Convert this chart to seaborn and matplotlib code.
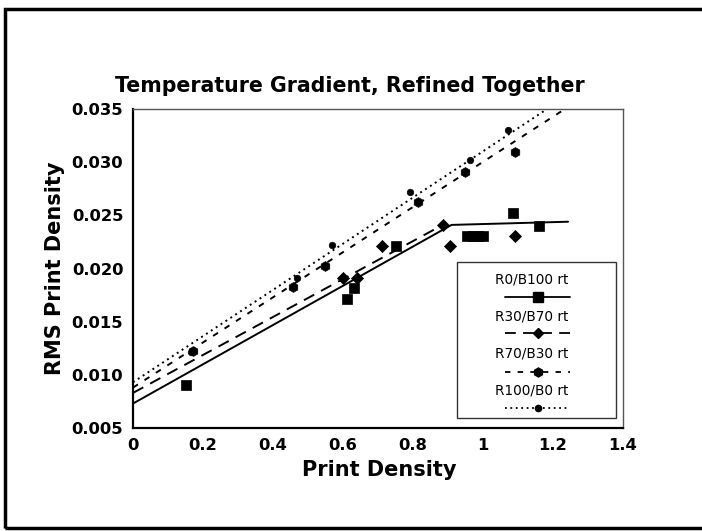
import matplotlib
matplotlib.use("Agg")
import matplotlib.pyplot as plt
import seaborn as sns
import pandas as pd
from matplotlib.lines import Line2D
from matplotlib.patches import Rectangle
from matplotlib.ticker import FormatStrFormatter, FuncFormatter

# ---------------- data ----------------
series_names = ["R0/B100 rt", "R30/B70 rt", "R70/B30 rt", "R100/B0 rt"]

r0_x = [0.15, 0.61, 0.63, 0.75, 0.955, 0.97, 0.985, 1.0, 1.085, 1.16]
r0_y = [0.0090, 0.0171, 0.0182, 0.0221, 0.0231, 0.0231, 0.0231, 0.0231, 0.0252, 0.0240]

r30_x = [0.60, 0.64, 0.71, 0.885, 0.905, 1.09]
r30_y = [0.0191, 0.0191, 0.0221, 0.0241, 0.0221, 0.0231]

r70_x = [0.17, 0.458, 0.549, 0.815, 0.949, 1.09]
r70_y = [0.0122, 0.0183, 0.0202, 0.0263, 0.0291, 0.0310]

r100_x = [0.165, 0.468, 0.568, 0.791, 0.963, 1.07]
r100_y = [0.0121, 0.0191, 0.0222, 0.0272, 0.0302, 0.0330]

# fitted (refined) lines
r0_fit_x = [0.0, 0.91, 1.243]
r0_fit_y = [0.0073, 0.0241, 0.0244]
r30_fit_x = [0.0, 0.885]
r30_fit_y = [0.0083, 0.0241]
r70_fit_x = [0.0, 1.234]
r70_fit_y = [0.0088, 0.0350]
r100_fit_x = [0.0, 1.183]
r100_fit_y = [0.0093, 0.0350]

x_ticks = [0, 0.2, 0.4, 0.6, 0.8, 1.0, 1.2, 1.4]
y_ticks = [0.005, 0.010, 0.015, 0.020, 0.025, 0.030, 0.035]

# ---------------- styling ----------------
sns.set_theme(style="white")
plt.rcParams["font.family"] = ["DejaVu Sans"]
plt.rcParams["text.color"] = "black"
plt.rcParams["axes.labelcolor"] = "black"
plt.rcParams["xtick.color"] = "black"
plt.rcParams["ytick.color"] = "black"

markers = {"R0/B100 rt": "s", "R30/B70 rt": "D", "R70/B30 rt": "h", "R100/B0 rt": "o"}
msizes = {"R0/B100 rt": 60, "R30/B70 rt": 38, "R70/B30 rt": 50, "R100/B0 rt": 22}
lstyles = {"R0/B100 rt": "-", "R30/B70 rt": (0, (6, 4)),
           "R70/B30 rt": (0, (3, 4)), "R100/B0 rt": (0, (1, 2))}

pts = pd.concat([
    pd.DataFrame({"x": r0_x, "y": r0_y, "s": series_names[0]}),
    pd.DataFrame({"x": r30_x, "y": r30_y, "s": series_names[1]}),
    pd.DataFrame({"x": r70_x, "y": r70_y, "s": series_names[2]}),
    pd.DataFrame({"x": r100_x, "y": r100_y, "s": series_names[3]}),
])
fits = [
    (series_names[0], r0_fit_x, r0_fit_y),
    (series_names[1], r30_fit_x, r30_fit_y),
    (series_names[2], r70_fit_x, r70_fit_y),
    (series_names[3], r100_fit_x, r100_fit_y),
]

fig = plt.figure(figsize=(7.02, 5.31), dpi=100)
ax = fig.add_axes([0.1895, 0.194, 0.698, 0.6007])

for name, fx, fy in fits:
    sns.lineplot(x=fx, y=fy, ax=ax, color="black", linewidth=1.4,
                 linestyle=lstyles[name], legend=False, sort=False)

for name in series_names:
    sub = pts[pts["s"] == name]
    sns.scatterplot(data=sub, x="x", y="y", ax=ax, color="black",
                    marker=markers[name], s=msizes[name], edgecolor="black",
                    linewidth=0.5, legend=False, zorder=3)

ax.set_xlim(0, 1.4)
ax.set_ylim(0.005, 0.035)
ax.set_xticks(x_ticks)
ax.set_yticks(y_ticks)
ax.xaxis.set_major_formatter(FuncFormatter(lambda v, p: f"{v:g}"))
ax.yaxis.set_major_formatter(FormatStrFormatter("%.3f"))
ax.tick_params(length=0, labelsize=11.8, pad=7, colors="black")
for lab in ax.get_xticklabels() + ax.get_yticklabels():
    lab.set_fontweight("bold")

for side in ["left", "bottom"]:
    ax.spines[side].set_color("black")
    ax.spines[side].set_linewidth(1.6)
for side in ["top", "right"]:
    ax.spines[side].set_color("#555555")
    ax.spines[side].set_linewidth(1.0)

ax.set_xlabel("Print Density", fontsize=15, fontweight="bold", color="black")
ax.xaxis.set_label_coords(0.502, -0.10)
ax.set_ylabel("RMS Print Density", fontsize=15, fontweight="bold", labelpad=5,
              color="black")
fig.text(0.4986, 0.838, "Temperature Gradient, Refined Together", fontsize=14.8,
         fontweight="bold", ha="center", va="center", color="black")

# custom legend: label above each line sample
lx0, lx1, ly0, ly1 = 0.661, 0.986, 0.031, 0.520
ax.add_patch(Rectangle((lx0, ly0), lx1 - lx0, ly1 - ly0, transform=ax.transAxes,
                       facecolor="white", edgecolor="#333333", linewidth=1.0, zorder=5))
text_rows = [0.464, 0.348, 0.235, 0.119]
line_rows = [0.411, 0.298, 0.176, 0.063]
for name, ty, ly in zip(series_names, text_rows, line_rows):
    ax.text(0.814, ty, name, transform=ax.transAxes, ha="center", va="center",
            fontsize=9.8, zorder=6, color="black")
    ax.add_line(Line2D([0.759, 0.892], [ly, ly], transform=ax.transAxes,
                       color="black", linewidth=1.3, linestyle=lstyles[name], zorder=6))
    ax.add_line(Line2D([0.8255], [ly], transform=ax.transAxes, marker=markers[name],
                       markersize={"s": 7, "D": 5, "h": 6.5, "o": 4.5}[markers[name]],
                       color="black", linestyle="none", zorder=7))

# figure border (right edge runs off the image as in the scan)
fig.add_artist(Rectangle((0.007, 0.006), 1.0, 0.977, transform=fig.transFigure,
                         fill=False, edgecolor="black", linewidth=2.5))

fig.savefig("out.png", dpi=100)
